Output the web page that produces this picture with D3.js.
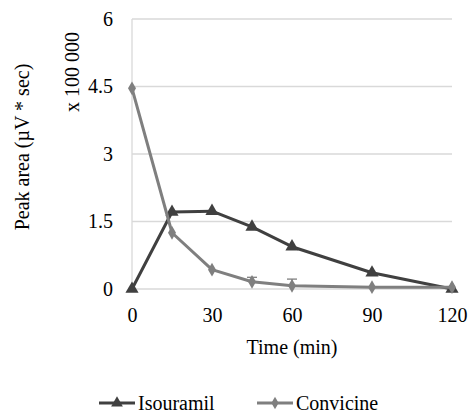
<!DOCTYPE html>
<html>
<head>
<meta charset="utf-8">
<script src="https://cdn.jsdelivr.net/npm/d3@7"></script>
<style>
	body { margin: 0; background: #fff; }
	svg text { font-family: "Times New Roman", "Liberation Serif", "DejaVu Serif", serif !important; fill: #000; }
</style>
</head>
<body>
<svg id="chart" width="469" height="415" font-family="Liberation Serif, serif"></svg>
<script>
// values in units of 100 000 µV*sec
const times = [0, 15, 30, 45, 60, 90, 120];
const isouramil = [0, 1.71, 1.73, 1.38, 0.94, 0.36, 0];
const convicine = [4.46, 1.25, 0.43, 0.16, 0.07, 0.04, 0.04];
const convicineErr = [0, 0, 0, 0.1, 0.15, 0, 0];
const xTicks = [0, 30, 60, 90, 120];
const yTicks = [0, 1.5, 3, 4.5, 6];

const margin = { top: 19, right: 17, bottom: 126, left: 132 },
	width = 469 - margin.left - margin.right,
	height = 415 - margin.top - margin.bottom;

const svg = d3.select('#chart');
const g = svg.append('g').attr('transform', `translate(${margin.left},${margin.top})`);

const x = d3.scaleLinear().domain([0, 120]).range([0, width]);
const y = d3.scaleLinear().domain([0, 6]).range([height, 0]);

// gridlines
g.selectAll('line.grid')
	.data(yTicks)
	.enter().append('line')
	.attr('x1', 0).attr('x2', width)
	.attr('y1', d => y(d)).attr('y2', d => y(d))
	.attr('stroke', '#d9d9d9').attr('stroke-width', 1.3);

g.append('line')
	.attr('x1', 0).attr('x2', 0)
	.attr('y1', 0).attr('y2', height)
	.attr('stroke', '#d9d9d9').attr('stroke-width', 1.3);

// axes (labels only)
const xAxis = g.append('g')
	.attr('transform', `translate(0,${height})`)
	.call(d3.axisBottom(x).tickValues(xTicks).tickSize(0).tickPadding(19).tickFormat(d3.format('d')));
xAxis.attr('font-family', null);
xAxis.select('.domain').remove();
xAxis.selectAll('text').style('font-size', '20px');

const yAxis = g.append('g')
	.call(d3.axisLeft(y).tickValues(yTicks).tickSize(0).tickPadding(19).tickFormat(d => d));
yAxis.attr('font-family', null);
yAxis.select('.domain').remove();
yAxis.selectAll('text').style('font-size', '20px');

// axis titles
svg.append('text')
	.attr('x', margin.left + width / 2).attr('y', 354)
	.attr('text-anchor', 'middle')
	.style('font-size', '20px')
	.text('Time (min)');

svg.append('text')
	.attr('transform', 'translate(29,147) rotate(-90)')
	.attr('text-anchor', 'middle')
	.style('font-size', '20px')
	.text('Peak area (µV * sec)');

svg.append('text')
	.attr('transform', 'translate(79,72) rotate(-90)')
	.attr('text-anchor', 'middle')
	.style('font-size', '20px')
	.text('x 100 000');

const series = [
	{ name: 'Isouramil', values: isouramil, err: null, color: '#404040', symbol: d3.symbolTriangle, size: 75 },
	{ name: 'Convicine', values: convicine, err: convicineErr, color: '#7f7f7f', symbol: d3.symbolDiamond, size: 55 }
];

const line = d3.line()
	.x((d, i) => x(times[i]))
	.y(d => y(d));

series.forEach(s => {
	if (s.err) {
		const eb = g.append('g');
		times.forEach((t, i) => {
			if (!s.err[i]) return;
			const top = y(s.values[i] + s.err[i]);
			eb.append('line')
				.attr('x1', x(t)).attr('x2', x(t))
				.attr('y1', y(s.values[i])).attr('y2', top)
				.attr('stroke', s.color).attr('stroke-width', 1.3);
			eb.append('line')
				.attr('x1', x(t) - 5).attr('x2', x(t) + 5)
				.attr('y1', top).attr('y2', top)
				.attr('stroke', s.color).attr('stroke-width', 1.3);
		});
	}

	g.append('path')
		.datum(s.values)
		.attr('fill', 'none')
		.attr('stroke', s.color)
		.attr('stroke-width', 3)
		.attr('stroke-linejoin', 'round')
		.attr('d', line);

	g.selectAll(null)
		.data(s.values)
		.enter().append('path')
		.attr('transform', (d, i) => `translate(${x(times[i])},${y(d)})`)
		.attr('d', d3.symbol().type(s.symbol).size(s.size))
		.attr('fill', s.color);
});

// legend
const legend = svg.append('g').attr('transform', 'translate(99,403)');
const legendX = [0, 158];
series.forEach((s, i) => {
	const lg = legend.append('g').attr('transform', `translate(${legendX[i]},0)`);
	lg.append('line')
		.attr('x1', 0).attr('x2', 36)
		.attr('y1', 0).attr('y2', 0)
		.attr('stroke', s.color).attr('stroke-width', 3);
	lg.append('path')
		.attr('transform', 'translate(18,0)')
		.attr('d', d3.symbol().type(s.symbol).size(s.size * 0.8))
		.attr('fill', s.color);
	lg.append('text')
		.attr('x', 39).attr('y', 0)
		.attr('dy', '0.35em')
		.style('font-size', '20px')
		.text(s.name);
});
</script>
</body>
</html>
